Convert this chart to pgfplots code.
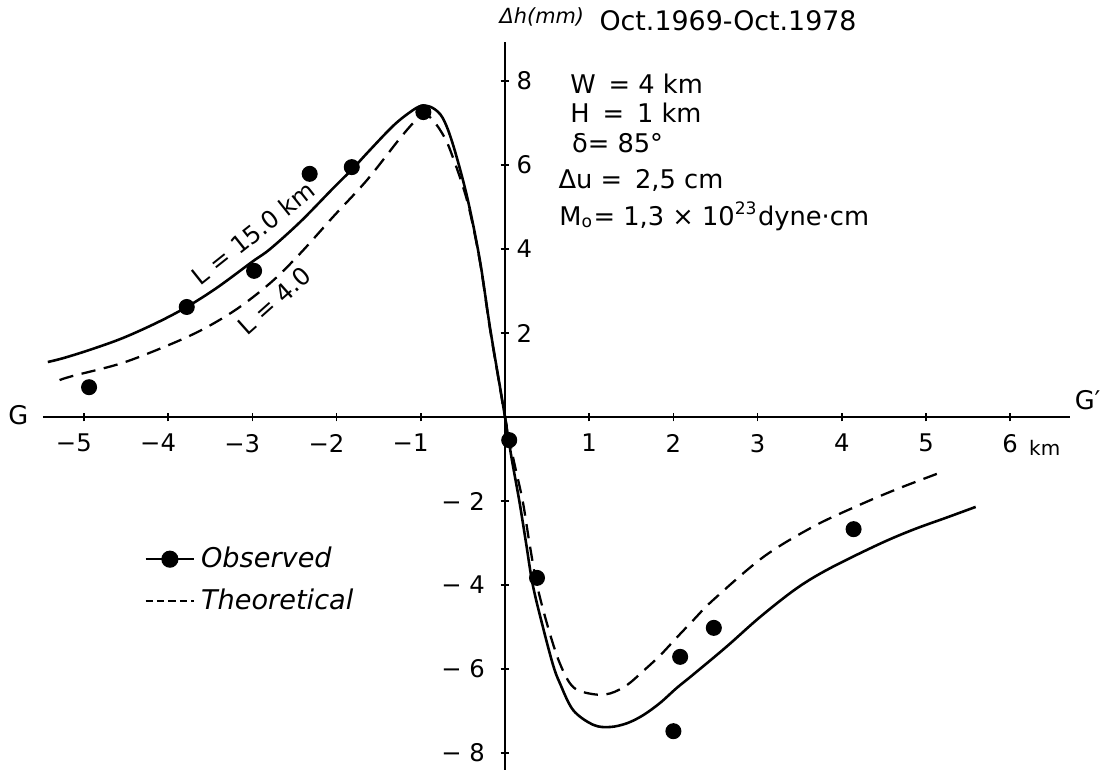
\documentclass[border=0pt]{standalone}
\usepackage{pgfplots}
\pgfplotsset{compat=1.18}
\usepackage{fontspec}
\setmainfont{DejaVu Sans}
\begin{document}
\begin{tikzpicture}
\begin{axis}[
  x=29.47pt, y=14.7pt,
  xmin=-5.49, xmax=6.71, ymin=-8.4, ymax=8.93,
  axis lines=middle,
  axis line style={-, line width=0.75pt},
  clip=false,
  xtick={-5,-4,-3,-2,-1,1,2,3,4,5,6},
  xticklabels={\llap{−}5,\llap{−}4,\llap{−}3,\llap{−}2,\llap{−}1,1,2,3,4,5,6},
  xticklabel style={font=\fontsize{8.5}{10}\selectfont, anchor=north, yshift=-1pt},
  ytick={-8,-6,-4,-2},
  yticklabels={− 8,− 6,− 4,− 2},
  yticklabel style={font=\fontsize{8.5}{10}\selectfont, anchor=east, xshift=-2pt},
  extra y ticks={2,4,6,8},
  extra y tick labels={2,4,6,8},
  extra y tick style={yticklabel style={anchor=west, xshift=4pt}},
  tick style={black, line width=0.6pt},
  major tick length=3pt,
  tick align=center,
  legend style={at={(0.09,0.323)}, anchor=north west, draw=none, fill=none,
    font=\itshape\fontsize{9.5}{11}\selectfont, row sep=2pt},
  legend cell align=left,
]
\addlegendimage{black, line width=0.8pt, mark=*, mark size=2.6pt}
\addlegendentry{Observed}
\addlegendimage{black, line width=0.7pt, dash pattern=on 2.5pt off 1.5pt}
\addlegendentry{Theoretical}

% theoretical, L = 15.0 km (solid)
\addplot[forget plot, black, line width=0.9pt, smooth, tension=0.55] coordinates {
(-5.43,1.31) (-5.25,1.40) (-4.93,1.60) (-4.54,1.88) (-4.13,2.25) (-3.78,2.62)
(-3.42,3.08) (-3.0,3.70) (-2.79,4.0) (-2.43,4.65) (-2.04,5.45) (-1.80,5.93)
(-1.64,6.28) (-1.33,6.93) (-1.12,7.27) (-0.99,7.41) (-0.86,7.36) (-0.74,7.12)
(-0.62,6.5) (-0.45,5.24) (-0.30,3.75) (-0.18,2.15) (-0.06,0.72) (0,0)
(0.08,-1.0) (0.17,-2.0) (0.25,-3.0) (0.33,-4.0) (0.45,-5.0) (0.57,-5.9)
(0.65,-6.33) (0.81,-6.98) (1.05,-7.33) (1.25,-7.38) (1.45,-7.29) (1.64,-7.10)
(1.84,-6.81) (2.04,-6.45) (2.23,-6.14) (2.63,-5.47) (3.03,-4.76) (3.47,-4.07)
(3.86,-3.6) (4.45,-3.02) (4.85,-2.68) (5.25,-2.39) (5.59,-2.14)
};
% theoretical, L = 4.0 km (dashed)
\addplot[forget plot, black, line width=0.8pt, dash pattern=on 5pt off 3pt, smooth, tension=0.55] coordinates {
(-5.29,0.88) (-5.13,0.98) (-4.54,1.29) (-3.94,1.76) (-3.54,2.14) (-3.15,2.62)
(-2.76,3.24) (-2.43,3.90) (-2.04,4.77) (-1.64,5.64) (-1.25,6.63) (-1.05,7.09)
(-0.97,7.21) (-0.88,7.12) (-0.76,6.8) (-0.65,6.35) (-0.45,5.15) (-0.30,3.72)
(-0.18,2.12) (-0.06,0.7) (0,0) (0.1,-1.0) (0.21,-2.0) (0.29,-3.0) (0.38,-4.0)
(0.51,-5.0) (0.65,-5.86) (0.81,-6.43) (1.05,-6.6) (1.25,-6.58) (1.45,-6.38)
(1.64,-6.05) (1.84,-5.68) (2.04,-5.25) (2.23,-4.85) (2.47,-4.36) (3.07,-3.33)
(3.66,-2.61) (4.18,-2.12) (4.65,-1.72) (5.2,-1.30)
};
% observed
\addplot[forget plot, only marks, mark=*, mark size=2.6pt, black] coordinates {
(-4.94,0.71) (-3.78,2.62) (-2.98,3.48) (-2.32,5.79) (-1.82,5.95) (-0.97,7.26)
(0.05,-0.55) (0.38,-3.83) (2.0,-7.48) (2.08,-5.71) (2.48,-5.02) (4.14,-2.67)
};

\node[inner sep=0pt, anchor=base west, font=\itshape\fontsize{7.3}{8}\selectfont] at (axis cs:-0.07,9.36) {Δh(mm)};
\node[inner sep=0pt, anchor=base west, font=\fontsize{9.4}{11}\selectfont] at (axis cs:1.116,9.21) {Oct.1969-Oct.1978};

\node[inner sep=0pt, anchor=base west, font=\fontsize{9}{11}\selectfont] at (axis cs:0.77,7.71) {W\enspace= 4 km};
\node[inner sep=0pt, anchor=base west, font=\fontsize{9}{11}\selectfont] at (axis cs:0.77,7.02) {H\enspace=\enspace1 km};
\node[inner sep=0pt, anchor=base west, font=\fontsize{9}{11}\selectfont] at (axis cs:0.79,6.30) {δ= 85°};
\node[inner sep=0pt, anchor=base west, font=\fontsize{9}{11}\selectfont] at (axis cs:0.63,5.45) {Δu =\enspace 2,5 cm};
\node[inner sep=0pt, anchor=base west, font=\fontsize{9}{11}\selectfont] at (axis cs:0.64,4.57) {M\textsubscript{o}= 1,3 × 10\textsuperscript{23}dyne·cm};

\node[rotate=38.5, font=\fontsize{8.5}{10}\selectfont] at (axis cs:-2.99,4.38) {L = 15.0 km};
\node[rotate=41.7, font=\fontsize{8.5}{10}\selectfont] at (axis cs:-2.74,2.76) {L = 4.0};

\node[font=\fontsize{9}{11}\selectfont] at (axis cs:-5.78,0.05) {G};
\node[font=\fontsize{9}{11}\selectfont] at (axis cs:6.92,0.4) {G′};
\node[font=\fontsize{7}{8}\selectfont] at (axis cs:6.41,-0.74) {km};

\coordinate (bl) at (axis cs:-5.998,-8.452);
\coordinate (tr) at (axis cs:7.138,9.929);
\end{axis}
\pgfresetboundingbox
\path[use as bounding box] (bl) rectangle (tr);
\end{tikzpicture}
\end{document}
